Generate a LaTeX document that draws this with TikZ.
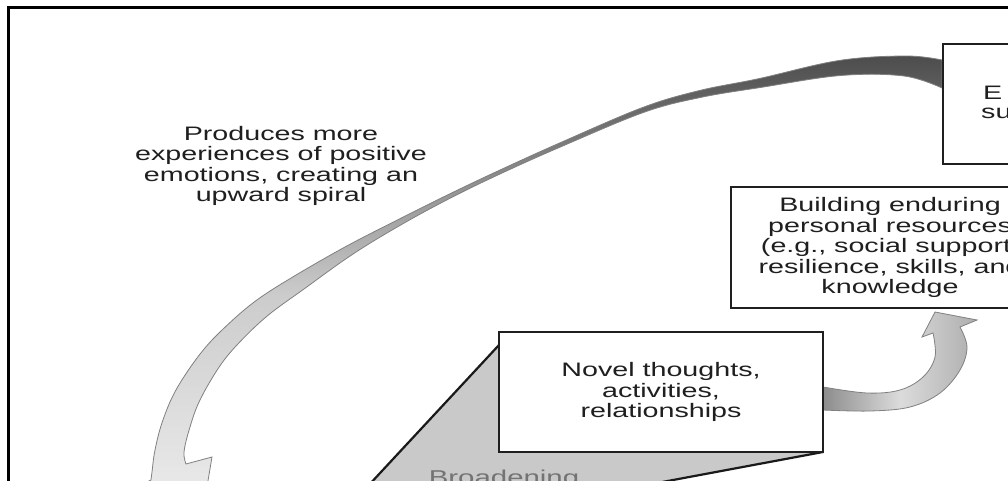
\documentclass[tikz,border=0pt]{standalone}
\usepackage{fontspec}
\setmainfont{Liberation Sans}[FakeStretch=1.47]
\begin{document}
\begin{tikzpicture}[x=1pt,y=-1pt,
  box/.style={draw=black!88, line width=2pt, fill=white, inner sep=0pt},
  txt/.style={text=black!88, font=\fontsize{19.5}{20.5}\selectfont, align=center, inner sep=0pt},
  ribbon/.style={draw=black!50, line width=0.8pt},
  wedgeline/.style={draw=black!90, line width=2.2pt},
]
\useasboundingbox (0,0) rectangle (1008,481);
\clip (0,0) rectangle (1008,481);
\fill[white] (0,0) rectangle (1008,481);

% outer frame of the figure
\draw[line width=3pt] (8.5,495) -- (8.5,7.5) -- (1030,7.5);

% broadening wedge below the "novel" box
\coordinate (wtop) at (499,345);
\coordinate (wleft) at (355,500);
\coordinate (wright) at (566,500);
\coordinate (wcorner) at (823,452);
\fill[black!21] (wtop) -- (wleft) -- (wright) -- (wcorner) -- (499,452) -- cycle;
\draw[wedgeline] (wtop) -- (wleft);
\draw[wedgeline] (wcorner) -- (wright);

% small curved arrow: novel thoughts -> enduring resources
\path[ribbon, left color=black!45, right color=black!32, middle color=black!14]
  plot[smooth, tension=0.6] coordinates {(823,387) (867,393) (900,390) (923,377) (935,357) (933,333)}
  -- (922,337) -- (935,312) -- (977,320) -- (960,327)
  -- plot[smooth, tension=0.6] coordinates {(960,327) (967,347) (960,370) (940,393) (910,407) (870,411) (823,410)}
  -- cycle;

% large spiral arrow sweeping back to the left
\path[ribbon, top color=black!70, bottom color=black!6, middle color=black!20]
  plot[smooth, tension=0.6] coordinates {(942,60) (906,56) (839,60.5) (759,78.6) (699.2,90.6) (642.1,107.7) (559.2,143.2) (499.2,170.4) (449.1,194.2) (398.6,219.4) (347.4,245.7) (295.6,275.3) (256.2,300.5) (224.6,327.6) (200.7,353.2) (176.5,389) (162.6,421) (155,450) (152,472) (151,480)}
  -- (128,492) -- (199,534) -- (212,457) -- (186,464)
  -- plot[smooth, tension=0.6] coordinates {(186,464) (184,452) (189.4,429) (199.5,401) (219.3,366.8) (239.4,342.4) (267.8,315.5) (304.4,288.7) (352.6,254.3) (401.4,224.6) (450.9,197.8) (500.8,173.6) (560.8,146.8) (643.9,112.3) (700.8,97.4) (761,87.4) (840.7,75.5) (904,76) (942,88)}
  -- cycle;

% boxes
\node[box, anchor=north west, minimum width=200pt, minimum height=120pt] (emo) at (942,43) {};
\node[txt, anchor=base west] (emoA) at (983,100) {E};
\node[txt, anchor=base west] (emoB) at (981,119) {su};

\node[box, txt, minimum width=318pt, minimum height=121pt] (build) at (890,247.5)
  {Building enduring\\personal resources\\(e.g., social support,\\resilience, skills, and\\knowledge};

\node[box, txt, minimum width=324pt, minimum height=120pt] (novel) at (661,392)
  {Novel thoughts,\\activities,\\relationships};

% free labels
\node[txt] (spiral) at (281,166)
  {Produces more\\experiences of positive\\emotions, creating an\\upward spiral};
\node[txt, text=black!55, font=\fontsize{20}{22}\selectfont, anchor=base] (broad) at (504,484) {Broadening};
\end{tikzpicture}
\end{document}
